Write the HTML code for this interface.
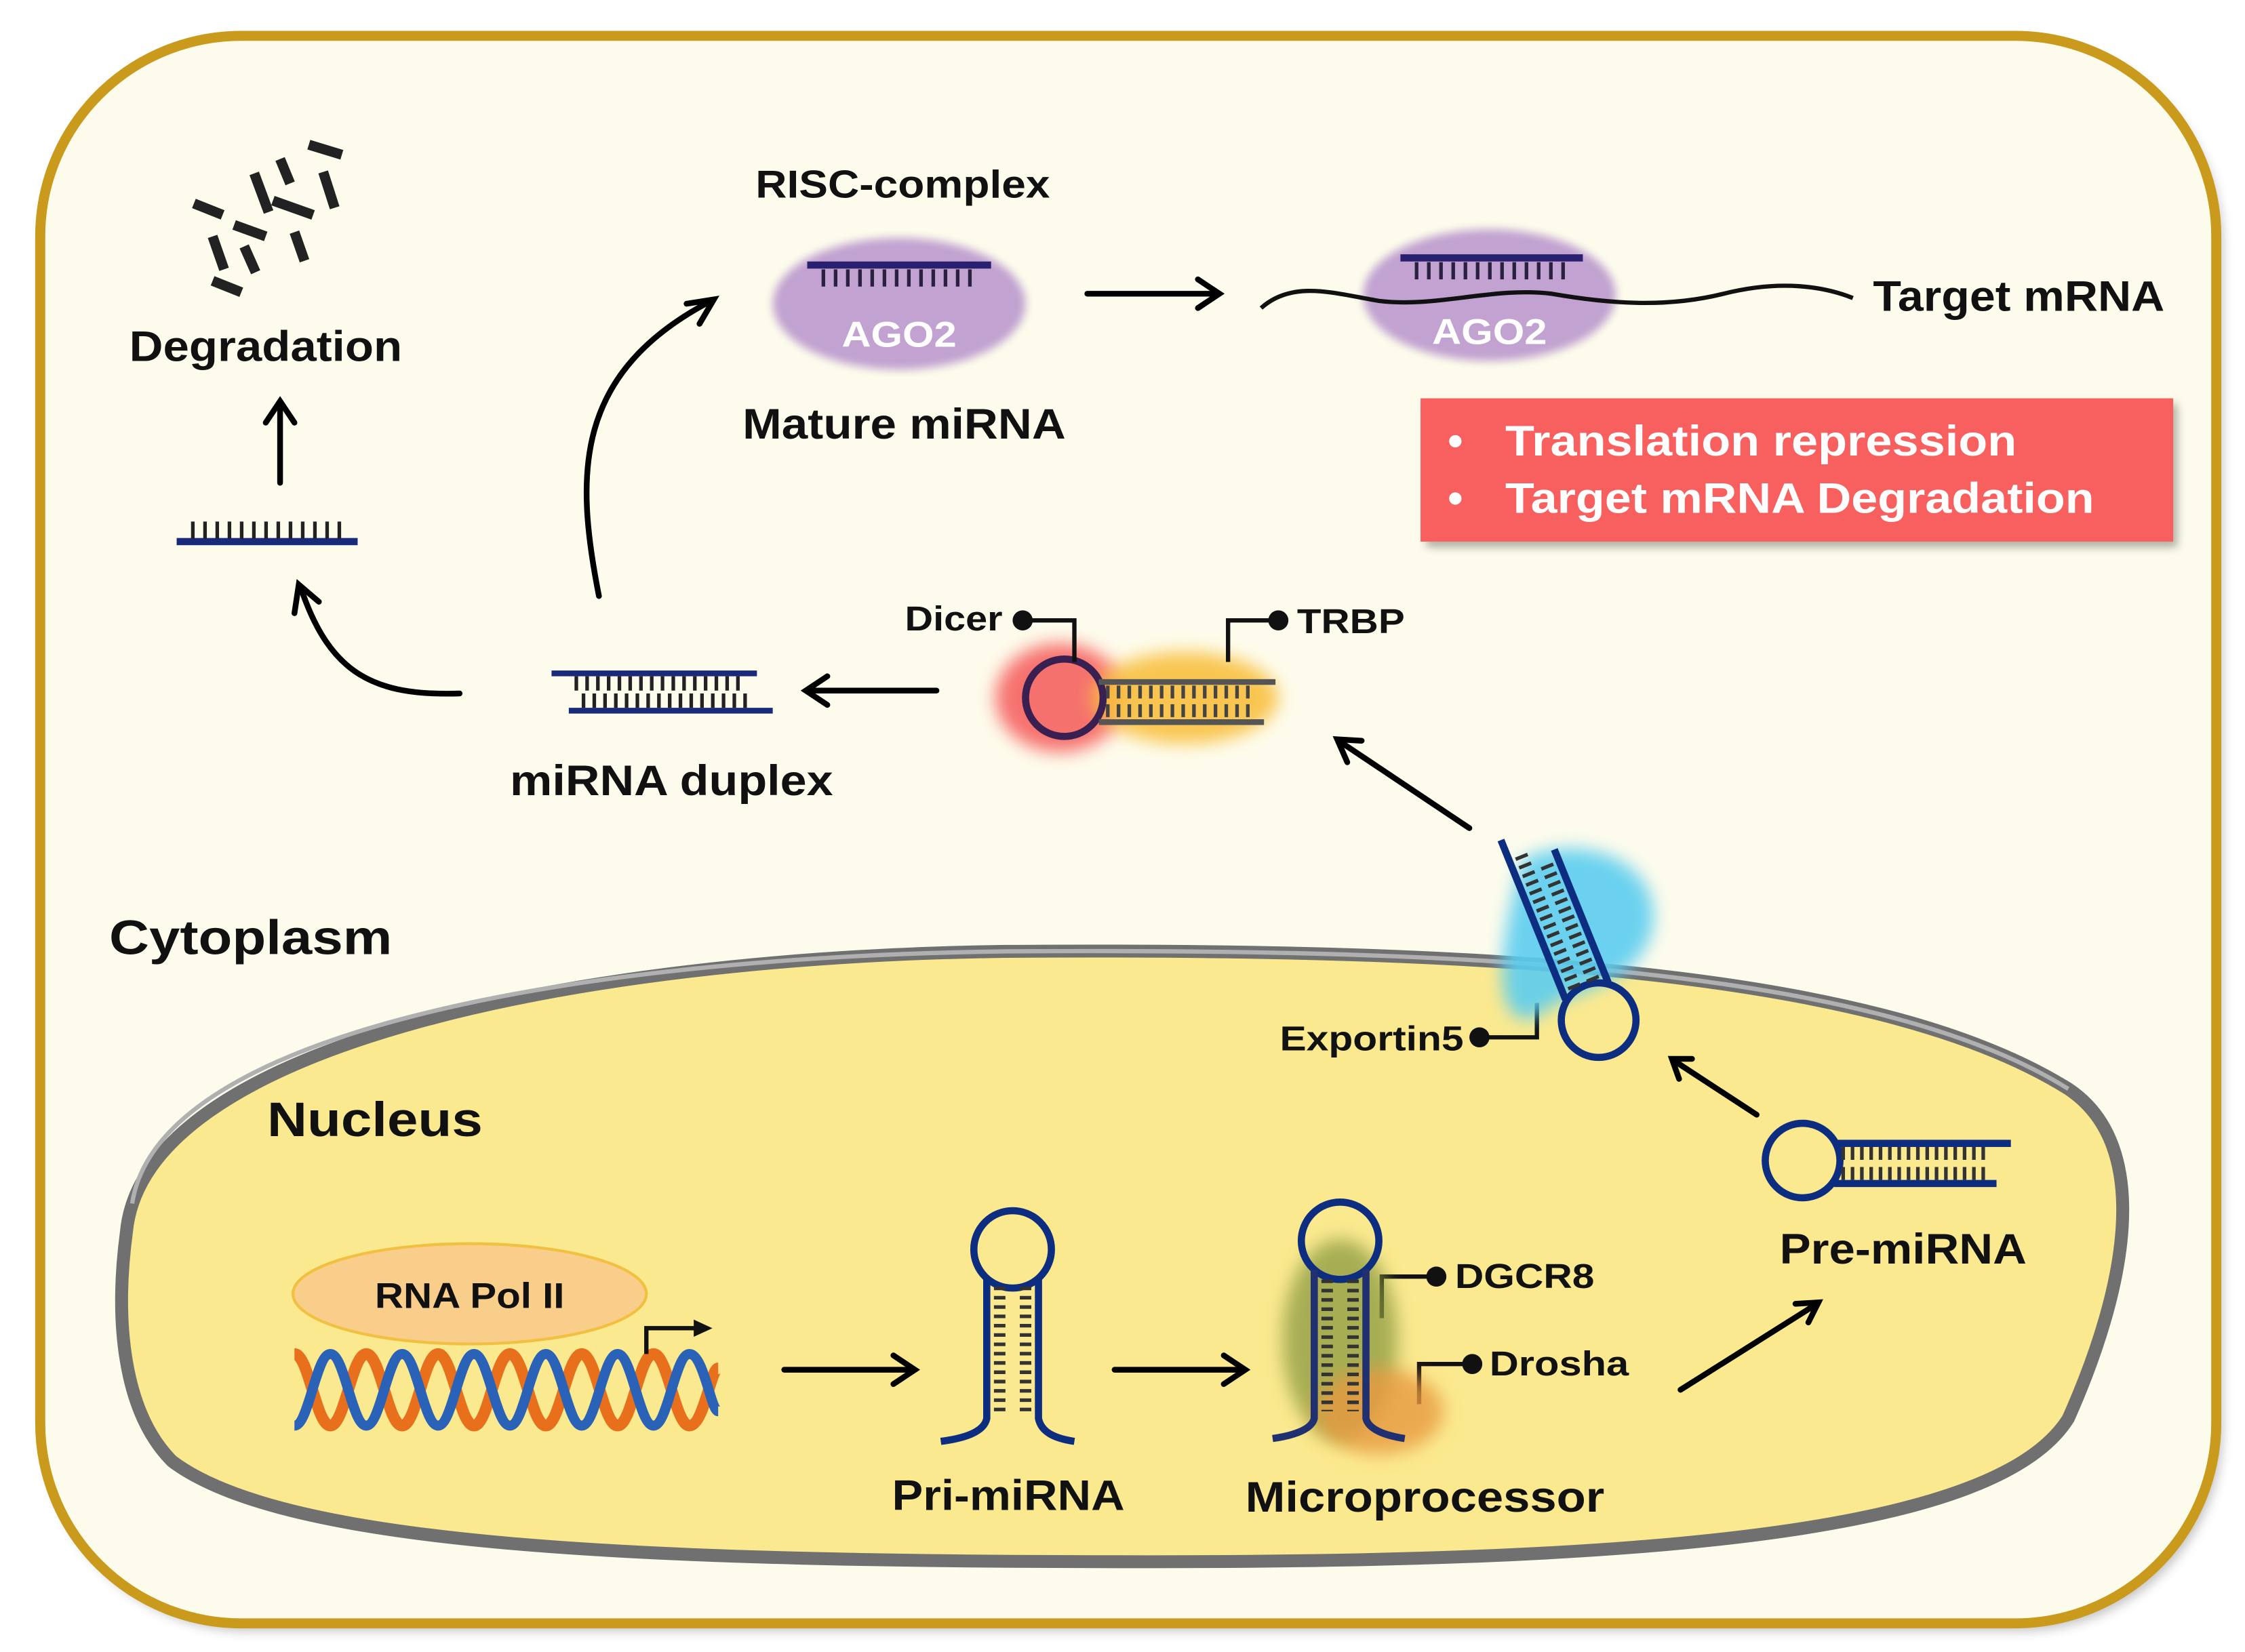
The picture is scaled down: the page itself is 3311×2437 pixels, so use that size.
<!DOCTYPE html>
<html><head><style>html,body{margin:0;padding:0;background:#fff}svg{display:block}</style></head>
<body>
<svg width="3311" height="2437" viewBox="0 0 1563 1153" preserveAspectRatio="none" xmlns="http://www.w3.org/2000/svg" font-family="Liberation Sans, Arial, sans-serif" font-weight="bold">
<defs>
<filter id="bl" x="-50%" y="-50%" width="200%" height="200%"><feGaussianBlur stdDeviation="6"/></filter>
<filter id="bl2" x="-50%" y="-50%" width="200%" height="200%"><feGaussianBlur stdDeviation="3"/></filter>
<filter id="sh" x="-10%" y="-10%" width="120%" height="120%"><feGaussianBlur stdDeviation="4"/></filter>
</defs>
<rect width="1563" height="1153" fill="#fff"/>
<rect x="32" y="30" width="1515" height="1108" rx="140" fill="#000" opacity="0.25" filter="url(#sh)"/>
<rect x="28" y="25" width="1515" height="1108" rx="140" fill="#fdfcec" stroke="#c99a1c" stroke-width="7"/>
<path d="M88,860 C100,730 400,668 700,664 C1000,662 1300,672 1440,760 C1500,800 1480,900 1440,990 C1390,1070 1150,1090 800,1090 C450,1090 200,1080 120,1020 C85,985 80,920 88,860 Z" fill="#fbe98f" stroke="#707070" stroke-width="9"/>
<path d="M92,840 C110,720 400,668 700,664 C1000,662 1300,672 1440,760" fill="none" stroke="#b0b0b0" stroke-width="3"/>
<g fill="#111">
<text x="90" y="252" font-size="30" textLength="190" lengthAdjust="spacingAndGlyphs">Degradation</text>
<text x="526" y="138" font-size="27" textLength="205" lengthAdjust="spacingAndGlyphs">RISC-complex</text>
<text x="517" y="306" font-size="30" textLength="225" lengthAdjust="spacingAndGlyphs">Mature miRNA</text>
<text x="1304" y="217" font-size="30" textLength="203" lengthAdjust="spacingAndGlyphs">Target mRNA</text>
<text x="355" y="555" font-size="30" textLength="225" lengthAdjust="spacingAndGlyphs">miRNA duplex</text>
<text x="76" y="666" font-size="34" textLength="197" lengthAdjust="spacingAndGlyphs">Cytoplasm</text>
<text x="186" y="793" font-size="34" textLength="150" lengthAdjust="spacingAndGlyphs">Nucleus</text>
<text x="630" y="440" font-size="24" textLength="68" lengthAdjust="spacingAndGlyphs">Dicer</text>
<text x="903" y="442" font-size="24" textLength="75" lengthAdjust="spacingAndGlyphs">TRBP</text>
<text x="891" y="733" font-size="24" textLength="128" lengthAdjust="spacingAndGlyphs">Exportin5</text>
<text x="1013" y="899" font-size="24" textLength="97" lengthAdjust="spacingAndGlyphs">DGCR8</text>
<text x="1037" y="960" font-size="24" textLength="97" lengthAdjust="spacingAndGlyphs">Drosha</text>
<text x="1239" y="882" font-size="30" textLength="172" lengthAdjust="spacingAndGlyphs">Pre-miRNA</text>
<text x="621" y="1054" font-size="30" textLength="162" lengthAdjust="spacingAndGlyphs">Pri-miRNA</text>
<text x="867" y="1055" font-size="30" textLength="250" lengthAdjust="spacingAndGlyphs">Microprocessor</text>
</g>
<rect x="993" y="282" width="523" height="100" fill="#000" opacity="0.3" filter="url(#bl2)"/>
<rect x="989" y="278" width="524" height="100" fill="#f85f5f"/>
<g fill="#fff" font-size="30">
<text x="1008" y="318">•</text><text x="1048" y="318" textLength="356" lengthAdjust="spacingAndGlyphs">Translation repression</text>
<text x="1008" y="358">•</text><text x="1048" y="358" textLength="410" lengthAdjust="spacingAndGlyphs">Target mRNA  Degradation</text>
</g>
<ellipse cx="626" cy="212" rx="88" ry="46" fill="#c1a2d0" filter="url(#bl2)"/>
<ellipse cx="1037" cy="206" rx="88" ry="46" fill="#c1a2d0" filter="url(#bl2)"/>
<text x="586" y="242" font-size="25" fill="#fff" textLength="80" lengthAdjust="spacingAndGlyphs">AGO2</text>
<text x="997" y="240" font-size="25" fill="#fff" textLength="80" lengthAdjust="spacingAndGlyphs">AGO2</text>
<line x1="562" y1="185" x2="690" y2="185" stroke="#2a2070" stroke-width="5"/>
<line x1="572" y1="194" x2="680" y2="194" stroke="#2a2040" stroke-width="12" stroke-dasharray="2.5,6"/>
<line x1="975" y1="180" x2="1102" y2="180" stroke="#2a2070" stroke-width="5"/>
<line x1="985" y1="189" x2="1092" y2="189" stroke="#2a2040" stroke-width="12" stroke-dasharray="2.5,6"/>
<path d="M878,215 C900,195 930,205 960,210 C1000,215 1040,200 1080,205 C1120,212 1160,215 1200,205 C1240,195 1270,200 1290,208" fill="none" stroke="#111" stroke-width="3"/>
<g stroke="#222" stroke-width="7">
<line x1="215" y1="101" x2="238" y2="108"/><line x1="195" y1="111" x2="202" y2="128"/><line x1="177" y1="121" x2="187" y2="148"/><line x1="225" y1="120" x2="233" y2="145"/>
<line x1="135" y1="142" x2="155" y2="150"/><line x1="190" y1="140" x2="218" y2="150"/><line x1="163" y1="157" x2="185" y2="165"/>
<line x1="148" y1="165" x2="156" y2="188"/><line x1="170" y1="172" x2="178" y2="190"/><line x1="205" y1="162" x2="212" y2="182"/><line x1="148" y1="196" x2="168" y2="204"/>
</g>
<line x1="123" y1="378" x2="249" y2="378" stroke="#1a2a7a" stroke-width="5"/>
<line x1="133" y1="370" x2="240" y2="370" stroke="#222" stroke-width="12" stroke-dasharray="2.5,6"/>
<g stroke="#000" stroke-width="4" fill="none" stroke-linecap="round">
<line x1="195" y1="337" x2="195" y2="282"/><polyline points="185,295 195,280 205,295"/>
<path d="M320,484 C260,486 230,470 210,412"/><polyline points="205,428 208,408 222,420"/>
<path d="M417,416 C400,330 400,260 495,210"/><polyline points="478,212 497,209 487,226"/>
<line x1="757" y1="205" x2="848" y2="205"/><polyline points="834,195 849,205 834,215"/>
<line x1="652" y1="482" x2="562" y2="482"/><polyline points="576,472 561,482 576,492"/>
<line x1="1023" y1="578" x2="932" y2="517"/><polyline points="948,517 931,516 938,532"/>
<line x1="1223" y1="778" x2="1165" y2="740"/><polyline points="1178,739 1164,739 1169,753"/>
<line x1="1170" y1="970" x2="1265" y2="910"/><polyline points="1250,910 1266,909 1259,923"/>
<line x1="546" y1="956" x2="636" y2="956"/><polyline points="622,946 637,956 622,966"/>
<line x1="776" y1="956" x2="866" y2="956"/><polyline points="852,946 867,956 852,966"/>
</g>
<line x1="384" y1="470" x2="527" y2="470" stroke="#1a2a7a" stroke-width="4"/>
<line x1="396" y1="496" x2="538" y2="496" stroke="#1a2a7a" stroke-width="4"/>
<line x1="400" y1="477" x2="520" y2="477" stroke="#222" stroke-width="10" stroke-dasharray="2.5,5"/>
<line x1="405" y1="489" x2="525" y2="489" stroke="#222" stroke-width="10" stroke-dasharray="2.5,5"/>
<ellipse cx="738" cy="487" rx="45" ry="38" fill="#f45050" filter="url(#bl)" opacity="0.8"/>
<ellipse cx="825" cy="487" rx="65" ry="32" fill="#f8c040" filter="url(#bl)" opacity="0.9"/>
<circle cx="741" cy="487" r="27" fill="none" stroke="#3a2050" stroke-width="5"/>
<line x1="765" y1="476" x2="888" y2="476" stroke="#555" stroke-width="4"/>
<line x1="765" y1="504" x2="880" y2="504" stroke="#555" stroke-width="4"/>
<line x1="770" y1="483" x2="875" y2="483" stroke="#444" stroke-width="9" stroke-dasharray="2.5,5"/>
<line x1="770" y1="496" x2="875" y2="496" stroke="#444" stroke-width="9" stroke-dasharray="2.5,5"/>
<g stroke="#111" stroke-width="3" fill="none"><polyline points="712,433 748,433 748,462"/><polyline points="890,433 855,433 855,462"/><polyline points="1030,724 1070,724 1070,700"/><polyline points="1000,891 962,891 962,920"/><polyline points="1025,952 988,952 988,980"/></g>
<g fill="#111"><circle cx="712" cy="433" r="7"/><circle cx="890" cy="433" r="7"/><circle cx="1030" cy="724" r="7"/><circle cx="1000" cy="891" r="7"/><circle cx="1025" cy="952" r="7"/></g>
<path d="M1060,600 C1100,580 1160,600 1150,650 C1140,690 1090,690 1070,710 C1040,720 1040,670 1060,600 Z" fill="#5ccdf0" filter="url(#bl)" opacity="0.9"/>
<g transform="rotate(-22 1113 712)">
<circle cx="1113" cy="712" r="26" fill="none" stroke="#0d2d80" stroke-width="5"/>
<line x1="1097" y1="690" x2="1097" y2="570" stroke="#0d2d80" stroke-width="5"/>
<line x1="1129" y1="690" x2="1129" y2="590" stroke="#0d2d80" stroke-width="5"/>
<line x1="1106" y1="685" x2="1106" y2="585" stroke="#333" stroke-width="9" stroke-dasharray="2.5,4"/>
<line x1="1120" y1="685" x2="1120" y2="595" stroke="#333" stroke-width="9" stroke-dasharray="2.5,4"/>
</g>
<circle cx="1255" cy="810" r="26" fill="none" stroke="#0d2d80" stroke-width="5"/>
<line x1="1277" y1="798" x2="1400" y2="798" stroke="#0d2d80" stroke-width="5"/>
<line x1="1277" y1="826" x2="1390" y2="826" stroke="#0d2d80" stroke-width="5"/>
<line x1="1282" y1="805" x2="1385" y2="805" stroke="#333" stroke-width="9" stroke-dasharray="2.5,4"/>
<line x1="1282" y1="819" x2="1385" y2="819" stroke="#333" stroke-width="9" stroke-dasharray="2.5,4"/>
<circle cx="705" cy="872" r="27" fill="none" stroke="#0d2d80" stroke-width="5"/>
<path d="M687,892 L687,990 C685,1000 670,1004 655,1006 M723,892 L723,990 C725,1000 735,1004 748,1006" fill="none" stroke="#0d2d80" stroke-width="5"/>
<line x1="696" y1="898" x2="696" y2="985" stroke="#333" stroke-width="8" stroke-dasharray="2.5,4"/>
<line x1="714" y1="898" x2="714" y2="985" stroke="#333" stroke-width="8" stroke-dasharray="2.5,4"/>
<ellipse cx="933" cy="935" rx="40" ry="70" fill="#8a9a40" filter="url(#bl)" opacity="0.75"/>
<ellipse cx="960" cy="985" rx="45" ry="30" fill="#e89a40" filter="url(#bl)" opacity="0.8"/>
<circle cx="933" cy="866" r="27" fill="none" stroke="#0d2d80" stroke-width="5"/>
<path d="M915,886 L915,990 C913,998 900,1002 886,1004 M951,886 L951,990 C953,998 965,1002 978,1004" fill="none" stroke="#203070" stroke-width="5"/>
<line x1="924" y1="893" x2="924" y2="985" stroke="#333" stroke-width="8" stroke-dasharray="2.5,4"/>
<line x1="942" y1="893" x2="942" y2="985" stroke="#333" stroke-width="8" stroke-dasharray="2.5,4"/>
<ellipse cx="327" cy="903" rx="123" ry="35" fill="#f9cd8a" stroke="#f2c040" stroke-width="2"/>
<text x="261" y="913" font-size="25" fill="#111" textLength="132" lengthAdjust="spacingAndGlyphs">RNA Pol II</text>
<path d="M205,945 C215,945 220,995 230,995 C240,995 245,945 255,945 C265,945 270,995 280,995 C290,995 295,945 305,945 C315,945 320,995 330,995 C340,995 345,945 355,945 C365,945 370,995 380,995 C390,995 395,945 405,945 C415,945 420,995 430,995 C440,995 445,945 455,945 C465,945 470,995 480,995 C490,995 495,955 500,955" fill="none" stroke="#e8701c" stroke-width="8"/>
<path d="M205,995 C215,995 220,945 230,945 C240,945 245,995 255,995 C265,995 270,945 280,945 C290,945 295,995 305,995 C315,995 320,945 330,945 C340,945 345,995 355,995 C365,995 370,945 380,945 C390,945 395,995 405,995 C415,995 420,945 430,945 C440,945 445,995 455,995 C465,995 470,945 480,945 C490,945 495,985 500,985" fill="none" stroke="#2a62b8" stroke-width="7"/>
<polyline points="450,945 450,927 485,927" fill="none" stroke="#111" stroke-width="3"/>
<polygon points="483,921 496,927 483,933" fill="#111"/>
</svg>
</body></html>
